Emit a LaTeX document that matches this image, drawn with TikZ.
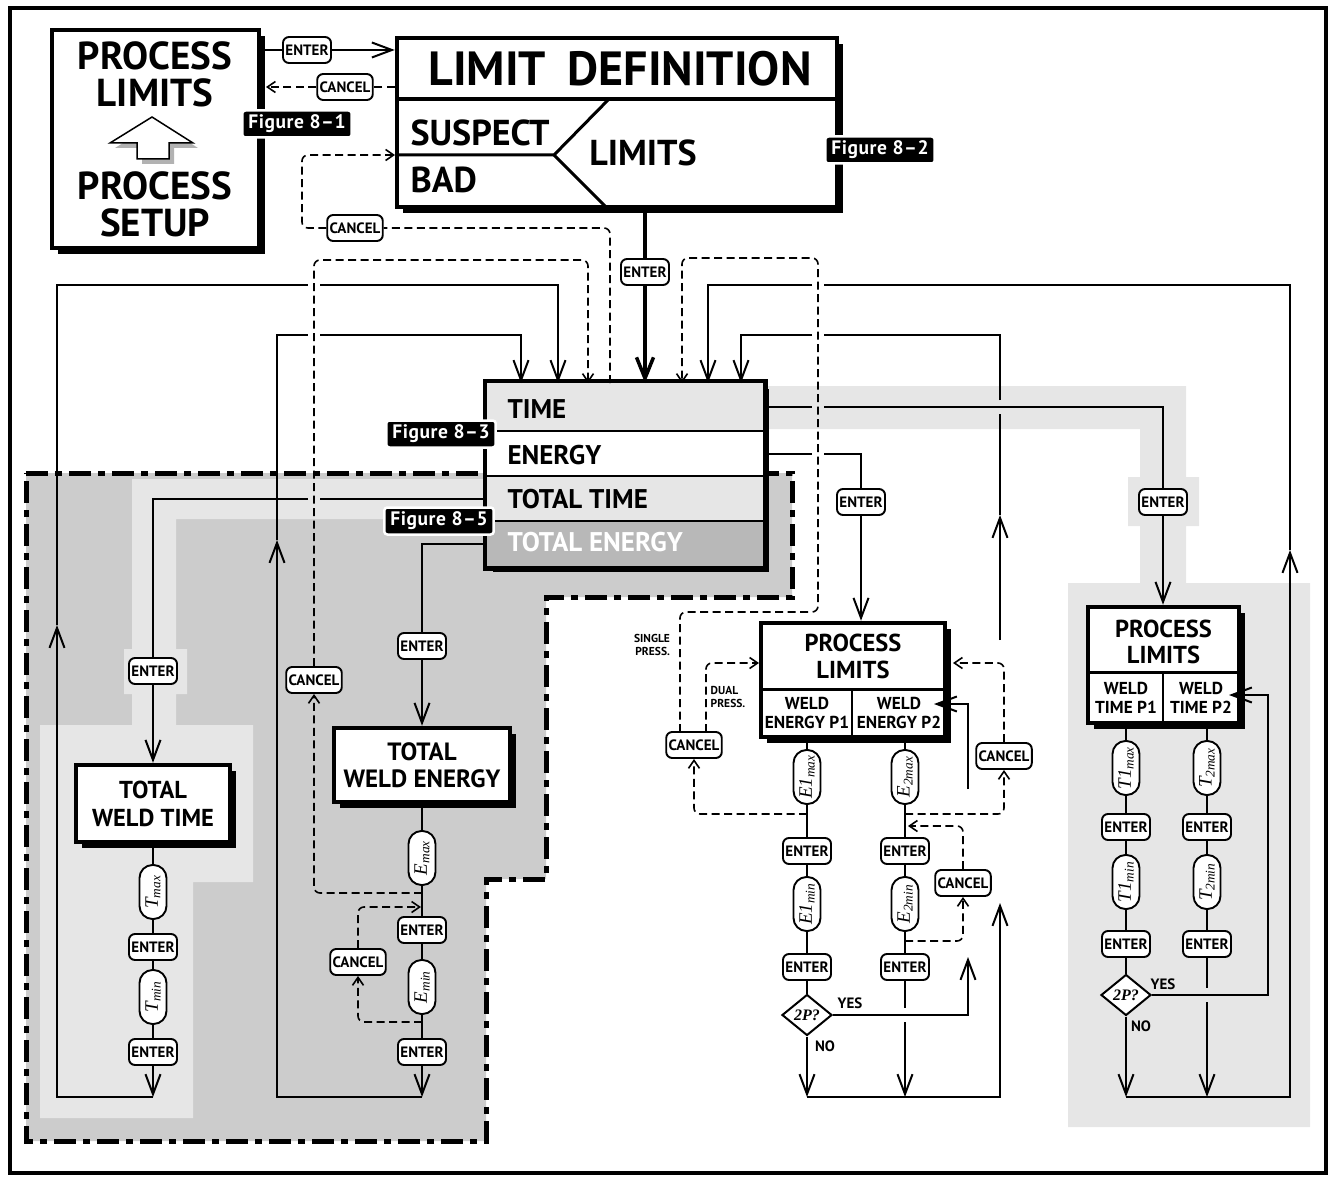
\documentclass[tikz,border=0pt]{standalone}
\usepackage{fontspec}
\setmainfont{PT Sans}
\newfontfamily\tms{Liberation Serif}
\usepackage{tikz}
\usetikzlibrary{arrows.meta,positioning,shapes.geometric,shadows}
\definecolor{shadeA}{HTML}{CCCCCC}
\definecolor{shadeB}{HTML}{E6E6E6}
\definecolor{shadeC}{HTML}{B8B8B8}
\newcommand{\fsz}[2]{\fontsize{#1}{#2}\selectfont\bfseries}
\newcommand{\vlab}[2]{#1\textsubscript{#2}}

\begin{document}
\begin{tikzpicture}[x=1pt, y=-1pt,
  sline/.style={line width=2pt},
  thk/.style={line width=3.5pt},
  dline/.style={line width=1.6pt, dash pattern=on 8pt off 4.5pt, rounded corners=6pt},
  arr/.style={-{Straight Barb[length=20pt,width=15pt]}},
  bigarr/.style={-{Straight Barb[length=21pt,width=17pt]}},
  darr/.style={-{Straight Barb[length=8pt,width=11pt]}},
  pbox/.style={draw, line width=4.5pt, fill=white, inner sep=0pt,
    drop shadow={shadow xshift=6pt, shadow yshift=-6pt, fill=black, opacity=1}},
  keytag/.style={draw, line width=1.9pt, fill=white, rounded corners=6pt,
    inner sep=2.5pt, minimum height=26pt, font=\fsz{15}{15}},
  pillnode/.style={draw, line width=1.9pt, fill=white, rounded corners=13pt,
    minimum width=54pt, minimum height=27pt, inner sep=1pt, rotate=90,
    font=\tms\itshape\fontsize{19}{19}\selectfont},
  dia/.style={diamond, draw, line width=2pt, fill=white, inner sep=0pt,
    minimum width=50pt, minimum height=41pt, font=\tms\bfseries\itshape\fontsize{16}{16}\selectfont},
  figlab/.style={fill=black, draw=white, line width=2.5pt, rounded corners=3pt,
    text=white, inner xsep=6pt, minimum height=27pt,
    font=\fsz{19.5}{19.5}\addfontfeature{LetterSpace=3}},
  mrow/.style={minimum width=276pt, minimum height=45pt, inner sep=0pt},
  rowlab/.style={anchor=west, font=\fsz{27}{27}},
  regionedge/.style={line width=5pt, dash pattern=on 22pt off 7pt on 7pt off 7pt}]
\useasboundingbox (0,0) rectangle (1333,1177);

% shaded groups
\path[fill=shadeA, draw=black, regionedge] (26,473) -- (792,473) -- (792,597) -- (546,597)
  -- (546,879) -- (486,879) -- (486,1141) -- (26,1141) -- cycle;
\fill[shadeB] (132,479) -- (487,479) -- (487,519) -- (176,519) -- (176,649) -- (187,649)
  -- (187,694) -- (176,694) -- (176,725) -- (253,725) -- (253,882) -- (193,882)
  -- (193,1118) -- (40,1118) -- (40,725) -- (132,725) -- (132,694) -- (124,694)
  -- (124,649) -- (132,649) -- cycle;
\fill[shadeB] (700,386) -- (1186,386) -- (1186,477) -- (1199,477) -- (1199,526) -- (1186,526)
  -- (1186,583) -- (1310,583) -- (1310,1127) -- (1068,1127) -- (1068,583) -- (1140,583)
  -- (1140,526) -- (1128,526) -- (1128,477) -- (1140,477) -- (1140,429) -- (700,429) -- cycle;

% top boxes
\node[pbox, minimum width=207pt, minimum height=218pt] (setup) at (155.5,139) {};
\node[font=\fsz{39}{37}, align=center] (plim) at (155,74) {PROCESS\\LIMITS};
\node[font=\fsz{39}{37}, align=center] (psetup) at (155,204) {PROCESS\\SETUP};
\fill[black!30] (157,122) -- (198,148) -- (174,148) -- (174,164) -- (142,164) -- (142,148) -- (115,148) -- cycle;
\draw[line width=1.5pt, fill=white] (152,117) -- (193,143) -- (169,143) -- (169,159) -- (137,159)
  -- (137,143) -- (110,143) -- cycle;

\node[pbox, minimum width=440pt, minimum height=169pt] (ldbox) at (617,122.5) {};
\draw[line width=3.5pt] (397,99) -- (837,99);
\draw[line width=3pt] (397,155) -- (554,155) -- (609,99);
\draw[line width=3pt] (554,155) -- (606,207);
\node[font=\fsz{48}{48}] (ldtitle) at (620,69) {LIMIT\hspace{0.45em}DEFINITION};
\node[font=\fsz{36}{36}, anchor=west] (susp) at (407,133) {SUSPECT};
\node[font=\fsz{36}{36}, anchor=west] (bad) at (407,180) {BAD};
\node[font=\fsz{36}{36}] (limits) at (643,153) {LIMITS};

% limit menu
\node[pbox, minimum width=276pt, minimum height=183pt] (menu) at (625,474.5) {};
\node[mrow, fill=shadeB, minimum height=48pt] (rtime) at (625,407) {};
\node[mrow, fill=white] (ren) at (625,453.5) {};
\node[mrow, fill=shadeB] (rtt) at (625,498.5) {};
\node[mrow, fill=shadeC] (rte) at (625,543.5) {};
\draw[line width=2pt] (rtime.south west) -- (rtime.south east);
\draw[line width=2pt] (ren.south west) -- (ren.south east);
\draw[line width=2pt] (rtt.south west) -- (rtt.south east);
\draw[line width=4.5pt] (menu.north west) rectangle (menu.south east);
\node[rowlab] (ltime) at (504,409) {TIME};
\node[rowlab] (len) at (504,455) {ENERGY};
\node[rowlab] (ltt) at (504,499) {TOTAL TIME};
\node[rowlab, text=white] (lte) at (504,542) {TOTAL ENERGY};

% total boxes
\node[pbox, minimum width=154pt, minimum height=77pt, align=center, font=\fsz{24.5}{28}] (twt) at (153,803.5) {TOTAL\\WELD TIME};
\node[pbox, minimum width=176pt, minimum height=74pt, align=center, font=\fsz{25}{27}] (twe) at (422,765) {TOTAL\\WELD ENERGY};

% process limits boxes
\node[pbox, minimum width=184pt, minimum height=114pt] (plE) at (853,680) {};
\draw[line width=3pt] (761,689) -- (945,689);
\draw[line width=2pt] (852,689) -- (852,737);
\node[font=\fsz{24.5}{27}, align=center] (plEt) at (853,656) {PROCESS\\LIMITS};
\node[font=\fsz{17.3}{19}, align=center] (wep1) at (807,713) {WELD\\ENERGY P1};
\node[font=\fsz{17.3}{19}, align=center] (wep2) at (899,713) {WELD\\ENERGY P2};

\node[pbox, minimum width=151pt, minimum height=116pt] (plT) at (1163.5,665) {};
\draw[line width=3pt] (1088,672) -- (1239,672);
\draw[line width=2pt] (1163,672) -- (1163,723);
\node[font=\fsz{24.5}{26}, align=center] (plTt) at (1163.5,642) {PROCESS\\LIMITS};
\node[font=\fsz{17.3}{19}, align=center] (wtp1) at (1126,697.5) {WELD\\TIME P1};
\node[font=\fsz{17.3}{19}, align=center] (wtp2) at (1201,697.5) {WELD\\TIME P2};

% keys
\node[keytag] (entA) at (307,50) {ENTER};
\node[keytag] (canA) at (345,87) {CANCEL};
\node[keytag] (canL) at (355,228) {CANCEL};
\node[keytag] (entL) at (645,272) {ENTER};
\node[keytag] (entE) at (861,502) {ENTER};
\node[keytag] (entT1) at (1163,502) {ENTER};
\node[keytag] (entTT) at (153,671) {ENTER};
\node[keytag] (entTE) at (422,646) {ENTER};
\node[keytag] (canT) at (314,680) {CANCEL};
\node[keytag] (canT2) at (358,962) {CANCEL};

% total weld time column
\node[pillnode] (tmax) at (153,892) {\vlab{T}{max}};
\node[keytag] (entT3) at (153,947) {ENTER};
\node[pillnode] (tmin) at (153,997) {\vlab{T}{min}};
\node[keytag] (entT4) at (153,1052) {ENTER};

% total weld energy column
\node[pillnode] (emax) at (422,858) {\vlab{E}{max}};
\node[keytag] (entE3) at (422,930) {ENTER};
\node[pillnode] (emin) at (422,987) {\vlab{E}{min}};
\node[keytag] (entE4) at (422,1052) {ENTER};

% weld energy columns
\node[pillnode] (e1max) at (807,777) {\vlab{E1}{max}};
\node[keytag] (entE13) at (807,851) {ENTER};
\node[pillnode] (e1min) at (807,904) {\vlab{E1}{min}};
\node[keytag] (entE14) at (807,967) {ENTER};
\node[dia] (dq1) at (807,1015) {2P?};
\node[pillnode] (e2max) at (905,777) {\vlab{E}{2max}};
\node[keytag] (entE23) at (905,851) {ENTER};
\node[pillnode] (e2min) at (905,904) {\vlab{E}{2min}};
\node[keytag] (entE24) at (905,967) {ENTER};
\node[keytag] (canE1) at (694,745) {CANCEL};
\node[keytag] (canE2) at (1004,756) {CANCEL};
\node[keytag] (canE3) at (963,883) {CANCEL};
\node[font=\fsz{15}{15}] (yes1) at (850,1003) {YES};
\node[font=\fsz{15}{15}] (no1) at (825,1046) {NO};
\node[font=\fsz{11.5}{13}, align=right] (single) at (652,645) {SINGLE\\PRESS.};
\node[font=\fsz{11.5}{13}, align=left] (dual) at (728,697) {DUAL\\PRESS.};

% weld time columns
\node[pillnode] (t1max) at (1126,768) {\vlab{T1}{max}};
\node[keytag] (entT13) at (1126,827) {ENTER};
\node[pillnode] (t1min) at (1126,882) {\vlab{T1}{min}};
\node[keytag] (entT14) at (1126,944) {ENTER};
\node[dia] (dq2) at (1126,995) {2P?};
\node[pillnode] (t2max) at (1207,768) {\vlab{T}{2max}};
\node[keytag] (entT23) at (1207,827) {ENTER};
\node[pillnode] (t2min) at (1207,882) {\vlab{T}{2min}};
\node[keytag] (entT24) at (1207,944) {ENTER};
\node[font=\fsz{15}{15}] (yes2) at (1163,984) {YES};
\node[font=\fsz{15}{15}] (no2) at (1141,1026) {NO};

% top connectors
\draw[sline] (setup.east |- entA) -- (entA);
\draw[sline, arr] (entA) -- (entA -| ldbox.west);
\draw[dline] (ldbox.west |- canA) -- (canA);
\draw[dline, darr] (canA) -- (266,87);
\draw[thk] (ldbox.south -| entL) -- (entL);
\draw[thk, bigarr] (entL) -- (645,383);
\draw[dline] (610,383) -- (610,228) -- (canL);
\draw[dline, darr] (canL) -- (302,228) -- (302,155) -- (395,155);

% total time path
\draw[sline] (rtt.west) -- (320,498.5);
\draw[sline] (308,498.5) -- (153,498.5) -- (entTT);
\draw[sline, arr] (entTT) -- (twt);
\draw[sline] (twt) -- (tmax) -- (entT3) -- (tmin) -- (entT4);
\draw[sline, arr] (entT4) -- (153,1097);
\draw[sline, arr] (153,1097) -- (57,1097) -- (57,625);
\draw[sline] (57,625) -- (57,285) -- (308,285);
\draw[sline, arr] (320,285) -- (558,285) -- (558,383);

% total energy path
\draw[sline] (rte.west) -- (422,543.5) -- (entTE);
\draw[sline, arr] (entTE) -- (twe);
\draw[sline] (twe) -- (emax) -- (entE3) -- (emin) -- (entE4);
\draw[sline, arr] (entE4) -- (422,1097);
\draw[sline, arr] (422,1097) -- (277,1097) -- (277,540);
\draw[sline] (277,540) -- (277,335) -- (308,335);
\draw[sline, arr] (320,335) -- (521,335) -- (521,383);
\draw[dline, darr] (422,893) -- (314,893) -- (canT);
\draw[dline, darr] (canT) -- (314,260) -- (588,260) -- (588,383);
\draw[dline, darr] (422,1022) -- (358,1022) -- (canT2);
\draw[dline, darr] (canT2) -- (358,907) -- (421,907);

% energy path
\draw[sline] (ren.east) -- (812,453.5);
\draw[sline] (824,453.5) -- (861,453.5) -- (entE);
\draw[sline, arr] (entE) -- (entE |- plE.north);
\draw[sline] (e1max |- plE.south) -- (e1max) -- (entE13) -- (e1min) -- (entE14) -- (dq1);
\draw[sline] (e2max |- plE.south) -- (e2max) -- (entE23) -- (e2min) -- (entE24);
\draw[sline] (entE24) -- (905,1008);
\draw[sline, arr] (905,1022) -- (905,1097);
\draw[sline, arr] (dq1) -- (807,1097);
\draw[sline, arr] (807,1097) -- (1000,1097) -- (1000,903);
\draw[sline, arr] (dq1) -- (968,1015) -- (968,957);
\draw[sline, arr] (968,789) -- (968,704) -- (934,704);
\draw[sline, arr] (1000,640) -- (1000,515);
\draw[sline] (1000,515) -- (1000,414);
\draw[sline] (1000,400) -- (1000,335) -- (824,335);
\draw[sline, arr] (812,335) -- (741,335) -- (741,383);
\draw[dline, darr] (807,814) -- (694,814) -- (canE1);
\draw[dline, darr] (680,732) -- (680,612) -- (818,612) -- (818,258) -- (682,258) -- (682,383);
\draw[dline, darr] (706,732) -- (706,663) -- (759,663);
\draw[dline, darr] (905,814) -- (1004,814) -- (canE2);
\draw[dline, darr] (canE2) -- (1004,663) -- (953,663);
\draw[dline, darr] (905,941) -- (963,941) -- (canE3);
\draw[dline, darr] (canE3) -- (963,826) -- (908,826);

% time path
\draw[sline] (rtime.east) -- (812,407);
\draw[sline] (824,407) -- (1163,407) -- (entT1);
\draw[sline, arr] (entT1) -- (entT1 |- plT.north);
\draw[sline] (t1max |- plT.south) -- (t1max) -- (entT13) -- (t1min) -- (entT14) -- (dq2);
\draw[sline] (t2max |- plT.south) -- (t2max) -- (entT23) -- (t2min) -- (entT24);
\draw[sline] (entT24) -- (1207,988);
\draw[sline, arr] (1207,1002) -- (1207,1097);
\draw[sline, arr] (dq2) -- (1126,1097);
\draw[sline, arr] (1126,1097) -- (1290,1097) -- (1290,550);
\draw[sline] (1290,550) -- (1290,285) -- (824,285);
\draw[sline, arr] (812,285) -- (708,285) -- (708,383);
\draw[sline, arr] (dq2) -- (1268,995) -- (1268,695) -- (1229,695);

% figure tags
\node[figlab] (fig1) at (297,124) {Figure 8--1};
\node[figlab] (fig2) at (880,150) {Figure 8--2};
\node[figlab] (fig3) at (441,434) {Figure 8--3};
\node[figlab] (fig5) at (439,521) {Figure 8--5};

\draw[line width=4pt] (10,8) rectangle (1326,1173);
\end{tikzpicture}
\end{document}
